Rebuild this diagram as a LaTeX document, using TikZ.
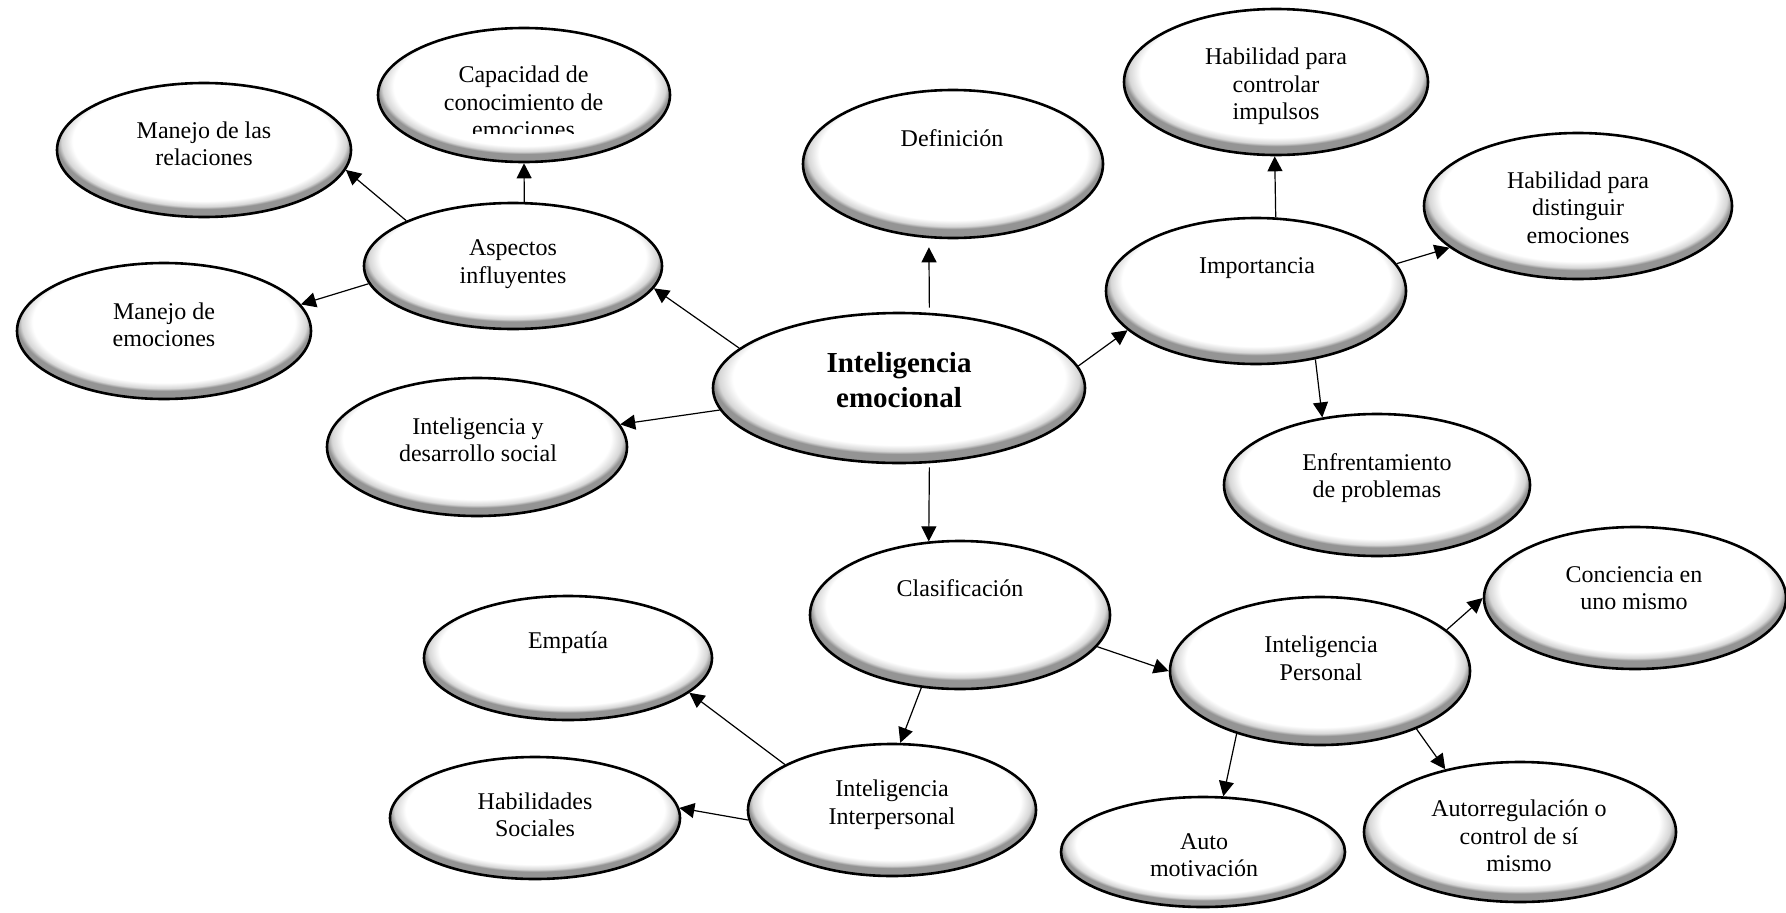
\documentclass[tikz,border=0pt]{standalone}
\usepackage{fontspec}
\setmainfont{Liberation Serif}
\usetikzlibrary{shapes.geometric,arrows.meta}
\pgfdeclareradialshading{rim}{\pgfpoint{0bp}{6bp}}{color(0bp)=(white); color(22.3bp)=(white); color(24.2bp)=(black!16); color(25bp)=(black!42); color(50bp)=(black!42)}
\begin{document}
\begin{tikzpicture}[x=1pt,y=-1pt,
  bub/.style={ellipse, draw=black, line width=2.6pt, shade, shading=rim, inner sep=0pt},
  txt/.style={align=center, inner sep=0pt, font=\fontsize{24}{27.5}\selectfont},
  big/.style={align=center, inner sep=0pt, font=\fontsize{29}{35}\selectfont\bfseries},
  arr/.style={-{Triangle[length=15pt,width=15pt]}, line width=1.2pt}]
\useasboundingbox (0,0) rectangle (1786,913);

% ellipses
\node[bub, minimum width=292pt, minimum height=134pt] (cap) at (524,95) {};
\node[bub, minimum width=294pt, minimum height=134pt] (mrel) at (204,150) {};
\node[bub, minimum width=298pt, minimum height=126pt] (asp) at (513,266) {};
\node[bub, minimum width=294pt, minimum height=136pt] (memo) at (164,331) {};
\node[bub, minimum width=300pt, minimum height=138pt] (ids) at (477,447) {};
\node[bub, minimum width=300pt, minimum height=148pt] (def) at (953,164) {};
\node[bub, minimum width=372pt, minimum height=150pt] (ie) at (899,388) {};
\node[bub, minimum width=304pt, minimum height=146pt] (hci) at (1276,82) {};
\node[bub, minimum width=308pt, minimum height=146pt] (hde) at (1578,206) {};
\node[bub, minimum width=300pt, minimum height=146pt] (imp) at (1256,291) {};
\node[bub, minimum width=306pt, minimum height=142pt] (enf) at (1377,485) {};
\node[bub, minimum width=300pt, minimum height=148pt] (cla) at (960,615) {};
\node[bub, minimum width=288pt, minimum height=124pt] (emp) at (568,658) {};
\node[bub, minimum width=300pt, minimum height=148pt] (ip) at (1320,671) {};
\node[bub, minimum width=302pt, minimum height=142pt] (con) at (1635,598) {};
\node[bub, minimum width=288pt, minimum height=132pt] (iinter) at (892,810) {};
\node[bub, minimum width=290pt, minimum height=122pt] (hs) at (535,818) {};
\node[bub, minimum width=284pt, minimum height=110pt] (am) at (1203,852) {};
\node[bub, minimum width=312pt, minimum height=140pt] (aut) at (1520,832) {};

% texts
\begin{scope}
\clip (370,20) rectangle (680,133);
\node[txt] (tcap) at (523.5,104.7) {Capacidad de\strut\\conocimiento de\strut\\emociones\strut};
\end{scope}
\node[txt] (tmrel) at (204,146.5) {Manejo de las\strut\\relaciones\strut};
\node[txt] (tasp) at (513,264) {Aspectos\strut\\influyentes\strut};
\node[txt] (tmemo) at (164,327.5) {Manejo de\strut\\emociones\strut};
\node[txt] (tids) at (478,442.5) {Inteligencia y\strut\\desarrollo social\strut};
\node[txt] (tdef) at (952,140.5) {Definición\strut};
\node[big] (tie) at (899,383) {Inteligencia\strut\\emocional\strut};
\node[txt] (thci) at (1276,86.5) {Habilidad para\strut\\controlar\strut\\impulsos\strut};
\node[txt] (thde) at (1578,210) {Habilidad para\strut\\distinguir\strut\\emociones\strut};
\node[txt] (timp) at (1257,267.5) {Importancia\strut};
\node[txt] (tenf) at (1377,478.5) {Enfrentamiento\strut\\de problemas\strut};
\node[txt] (tcla) at (960,590.5) {Clasificación\strut};
\node[txt] (temp) at (568,642.5) {Empatía\strut};
\node[txt] (tip) at (1321,661) {Inteligencia\strut\\Personal\strut};
\node[txt] (tcon) at (1634,590.5) {Conciencia en\strut\\uno mismo\strut};
\node[txt] (tiinter) at (892,805) {Inteligencia\strut\\Interpersonal\strut};
\node[txt] (ths) at (535,817.5) {Habilidades\strut\\Sociales\strut};
\node[txt] (tam) at (1204,857.5) {Auto\strut\\motivación\strut};
\node[txt] (taut) at (1519,838.5) {Autorregulación o\strut\\control de sí\strut\\mismo\strut};

% arrows
\draw[arr] (ie.166) -- (asp.-9);
\draw[arr, shorten <=5pt, shorten >=9pt] (ie.68) -- (def.-108);
\draw[arr] (ie.-173) -- (ids.9);
\draw[arr] (ie.7) -- (imp.-163);
\draw[arr, shorten <=4pt] (ie.-68) -- (cla.113);
\draw[arr] (asp.80) -- (cap.south);
\draw[arr] (asp.157) -- (mrel.-8);
\draw[arr] (asp.-173) -- (memo.11);
\draw[arr] (imp.75) -- (hci.-91);
\draw[arr] (imp.11) -- (hde.-162);
\draw[arr] (imp.-49) -- (enf.129);
\draw[arr] (cla.-13) -- (ip.180);
\draw[arr] (cla.-118) -- (iinter.83);
\draw[arr] (iinter.157) -- (emp.-16);
\draw[arr] (iinter.-176) -- (hs.4);
\draw[arr] (ip.18) -- (con.180);
\draw[arr] (ip.-143) -- (am.70);
\draw[arr] (ip.-31) -- (aut.140);
\end{tikzpicture}
\end{document}
